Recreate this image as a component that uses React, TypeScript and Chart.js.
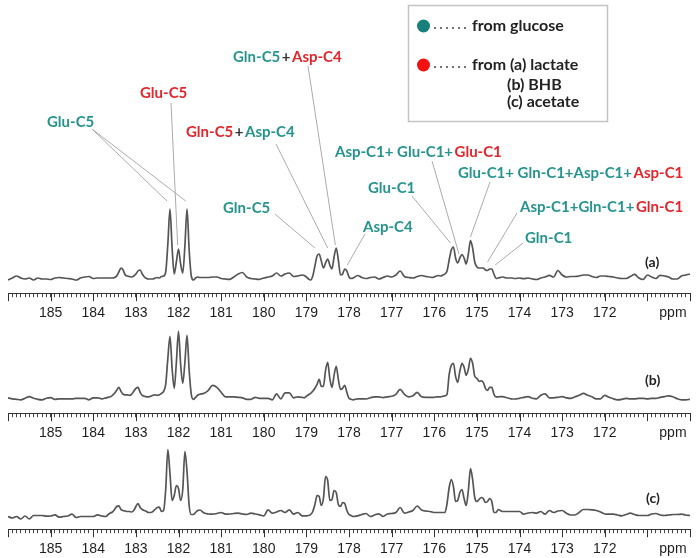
import React, { useEffect, useRef } from "react";
import { Chart, registerables } from "chart.js";

Chart.register(...registerables);

// ---------- DATA ----------
// chemical shift grid (ppm), shared by the three spectra
const ppm: number[] = [
  // 186.0 – 183.7
  186.0, 185.9, 185.8, 185.7, 185.6, 185.5, 185.4, 185.3, 185.2, 185.1, 185.0, 184.9, 184.8, 184.7, 184.6, 184.5, 184.4, 184.3, 184.2, 184.1, 184.0, 183.9, 183.8, 183.7,
  // 183.65 – 181.5
  183.65, 183.6, 183.55, 183.5, 183.45, 183.4, 183.35, 183.3, 183.25, 183.2, 183.15, 183.1, 183.05, 183.0, 182.95, 182.9, 182.85, 182.8, 182.75, 182.7, 182.65, 182.6, 182.55, 182.5, 182.45, 182.4, 182.35, 182.3, 182.25, 182.2, 182.15, 182.1, 182.05, 182.0, 181.95, 181.9, 181.85, 181.8, 181.75, 181.7, 181.65, 181.6, 181.55, 181.5,
  // 181.4 – 179.1
  181.4, 181.3, 181.2, 181.1, 181.0, 180.9, 180.8, 180.7, 180.6, 180.5, 180.4, 180.3, 180.2, 180.1, 180.0, 179.9, 179.8, 179.7, 179.6, 179.5, 179.4, 179.3, 179.2, 179.1,
  // 179.05 – 177.9
  179.05, 179.0, 178.95, 178.9, 178.85, 178.8, 178.75, 178.7, 178.65, 178.6, 178.55, 178.5, 178.45, 178.4, 178.35, 178.3, 178.25, 178.2, 178.15, 178.1, 178.05, 178.0, 177.95, 177.9,
  // 177.8 – 176.1
  177.8, 177.7, 177.6, 177.5, 177.4, 177.3, 177.2, 177.1, 177.0, 176.9, 176.8, 176.7, 176.6, 176.5, 176.4, 176.3, 176.2, 176.1,
  // 176.05 – 174.5
  176.05, 176.0, 175.95, 175.9, 175.85, 175.8, 175.75, 175.7, 175.65, 175.6, 175.55, 175.5, 175.45, 175.4, 175.35, 175.3, 175.25, 175.2, 175.15, 175.1, 175.05, 175.0, 174.95, 174.9, 174.85, 174.8, 174.75, 174.7, 174.65, 174.6, 174.55, 174.5,
  // 174.4 – 170.0
  174.4, 174.3, 174.2, 174.1, 174.0, 173.9, 173.8, 173.7, 173.6, 173.5, 173.4, 173.3, 173.2, 173.1, 173.0, 172.9, 172.8, 172.7, 172.6, 172.5, 172.4, 172.3, 172.2, 172.1, 172.0, 171.9, 171.8, 171.7, 171.6, 171.5, 171.4, 171.3, 171.2, 171.1, 171.0, 170.9, 170.8, 170.7, 170.6, 170.5, 170.4, 170.3, 170.2, 170.1, 170.0,
];

// spectrum (a) lactate
const intensityA: number[] = [
  -2, 0, 2, 0, -1, 0, -2, 0, -1, -1, -1.5, 0, 0.5, 0, -0.5, -1, -2, 0, 1, 1.5, -0.5, 0, 0, 0,
  0, 0, 0, 0.5, 2, 6, 10, 8, 3, 2, 1.5, 1, 2, 4, 7, 8, 4, 1, -0.5, -1, -1, -1, 0, 0.5, 0, 1.5, 2, 6, 34, 69, 30, 4, 16, 29, 14, 5, 32, 69, 28, 2, -2, 0, 1, 0.5,
  0.5, 0.5, 1, 1, -0.5, -1, -1.3, 1, 4, 5.5, 1, -0.5, -1, -1.3, 0, 1, 2, 5, 2, 4, 5, 1.5, 2, 3,
  2.5, 1, -1, -2, 2, 12, 22, 24, 17, 10, 15, 19, 13, 9, 21, 30, 18, 3, 4, 9, 7, 1, -0.5, 0,
  2.5, 0.5, -0.5, 0.5, 1, -1, 0.5, 2, 1, 3, 7, 1.5, 0.5, 0, 1.5, 2.5, 1.5, 1,
  0.5, 1, 2, 2.5, 2, 3, 4, 7, 18, 28, 31, 20, 15, 20, 23.5, 20, 14, 24, 37.5, 30, 16, 11, 10, 10, 10, 8, 7.5, 9, 9, 4, -0.5, 0,
  1, 0, 0, -0.5, 0, -0.7, 0, -1, -1.5, 0, 1, 2.7, 1, 7.5, 3, 1, 1.5, 1.5, 2, 3, 3, 1.5, 0.5, 2, 2, 1.5, 1, 0, -0.5, -0.5, 1.5, 3.7, 0, -1.5, 3, 1, -0.5, 2.7, 2, 1, -1, -1, 2, 3, 4,
];

// spectrum (b) BHB
const intensityB: number[] = [
  0.5, -0.5, -1, -1.5, 0, 1.7, 0, -1, -1.5, 0, 0.7, -1, -0.5, -0.5, -0.5, -0.5, 0, 0, 0, -1.5, 0.5, 0.5, -0.5, 0.5,
  1, 1.5, 3, 5, 8, 11, 7, 4, 3.5, 3.5, 3, 4, 7, 10, 11, 6, 3, 2, 1.5, 1.5, 2, 3, 3.5, 3, 3.5, 5, 7, 14, 40, 62, 30, 10, 36, 67, 34, 15, 36, 63, 28, 4, -1, 1, 3, 4,
  5, 8, 13, 11, 6, 1.5, 1.5, 1.5, 1, 0.5, -1, -1, 1, 0, 0, 0, -1.5, 4.5, -0.5, 5.5, 5.5, 0.5, 1.5, 1,
  0.5, 2, 3.5, 5, 7, 10, 14, 19, 12, 12, 28, 36, 20, 11, 23, 32, 19, 9, 10, 13, 6, 0, -1, -1.5,
  -0.5, -0.5, -0.7, 0.5, 1.5, 1.5, 0.7, 1.5, 2, 4, 9, 4, 1.5, 2.5, 6, 1.5, 1, 1,
  1, 1, 1.5, 1.5, 1.5, 2, 2.5, 4, 24, 33, 35, 22, 16, 27, 35, 31, 23, 29, 40, 35, 22, 20, 17, 17.5, 16, 10, 8, 11, 11, 4, 1.5, 1.5,
  1.7, 0.5, -0.5, -0.7, 0, 1, 1.7, 0, -0.5, 3, 4.5, 0.5, 0.5, 1, 1.7, 0.5, 0, 1.5, 3, 5, 3, 1.5, -0.5, -0.5, 3, 1, -0.5, -1.5, -1, 0, -0.5, -0.5, 0, 0, -0.5, 0, 0, 1, 1.7, 2.5, 1.5, -0.5, -1.5, -1.5, -1,
];

// spectrum (c) acetate
const intensityC: number[] = [
  -1, -2.5, -1, -3.5, -0.5, -3.5, 0, 0, 0, -0.7, -0.5, 0.7, -1.7, -1, -0.5, 1.3, -2, -1, -1, -1, -1, 0.7, -0.5, -1,
  1, 2.5, 3.5, 6, 9, 9.7, 6, 5, 4.5, 4, 4, 3.5, 5, 9, 12, 8, 6, 5, 4, 3, 3, 4, 6, 8, 8.3, 4, 5, 26, 66, 42, 15, 20, 30, 27, 15, 26, 64, 44, 10, 1, 1, 3, 5, 5.5,
  2.5, 1.5, 1.3, 2, 3, 1.3, 1.5, 2, 2.3, 1.5, 1, 2.3, 1.5, 0.7, -0.3, 5.7, 2.3, 3.5, 5, 3, 5.7, 1.3, 3, -0.3,
  -0.3, -0.3, 0, 1, 4, 11, 20, 19, 10, 17, 39, 35, 15, 16, 25, 23, 11, 9, 13, 12, 5, 1, 0, -1,
  -0.3, 1, 2, -1, 0.5, 1.7, -1, 1.5, 2, 3, 8, 2.3, 3.5, 5, 9.5, 5.5, 4.5, 4,
  3.5, 3, 3, 3, 3, 3, 3, 12, 28, 36, 29, 14, 15, 23, 26, 17, 10, 25, 47, 36, 18, 14, 16, 18, 17, 13, 14, 17, 14, 3, 3, 6,
  4, 4, 4, 4, 4, 1.3, 2.5, 3, 2.3, 4, 1.3, 5, 3, 4.5, 5, 2.3, 0.5, 0.5, 3, 6, 6, 5.7, 5, 3.5, 1.5, 1.3, 1.3, 0.5, -0.3, 1, 2.3, 1, 0, 0, 0, 1.5, 2, 0.5, 0, 0.5, 1, 1, 1.3, 0.5, 0,
];

const labeledTicks: number[] = [185, 184, 183, 182, 181, 180, 179, 178, 177, 176, 175, 174, 173, 172];
const majorTicks: number[] = [186, 185, 184, 183, 182, 181, 180, 179, 178, 177, 176, 175, 174, 173, 172, 171, 170];
const unitTickPpm = 170.4;
const unitLabel = "ppm";
const spectrumNames: string[] = ["(a)", "(b)", "(c)"];
const legendTexts: string[] = ["from glucose", "from (a) lactate", "(b) BHB", "(c) acetate"];

// ---------- STYLE ----------
const TEAL = "#25948e";
const RED = "#e3252c";
const DARK = "#333333";
const LABEL_FONT = "bold 15px Lato";

type Seg = [string, string];
interface Annot {
  at: [number, number];
  segs: Seg[];
  from: [number, number];
  to: [number, number][]; // [ppm, intensity] end point on spectrum (a)
}

const annotations: Annot[] = [
  { at: [233, 57], segs: [["Gln-C5", TEAL], ["+", DARK], ["Asp-C4", RED]], from: [308, 66], to: [[178.32, 33]] },
  { at: [140, 93], segs: [["Glu-C5", RED]], from: [171, 103], to: [[182.02, 33]] },
  { at: [47, 122], segs: [["Glu-C5", TEAL]], from: [92, 129], to: [[182.27, 77], [181.83, 77]] },
  { at: [186, 132], segs: [["Gln-C5", RED], ["+", DARK], ["Asp-C4", TEAL]], from: [276, 144], to: [[178.5, 30]] },
  { at: [223, 208], segs: [["Gln-C5", TEAL]], from: [275, 214], to: [[178.8, 30]] },
  { at: [335, 152], segs: [["Asp-C1+ Glu-C1+", TEAL], ["Glu-C1", RED]], from: [432, 161], to: [[175.42, 24]] },
  { at: [368, 188], segs: [["Glu-C1", TEAL]], from: [412, 196], to: [[175.62, 35]] },
  { at: [458, 173], segs: [["Glu-C1+ Gln-C1+Asp-C1+", TEAL], ["Asp-C1", RED]], from: [490, 182], to: [[175.15, 41]] },
  { at: [363, 227], segs: [["Asp-C4", TEAL]], from: [365, 234], to: [[178.04, 13]] },
  { at: [520, 207], segs: [["Asp-C1+Gln-C1+", TEAL], ["Gln-C1", RED]], from: [517, 213], to: [[174.75, 16]] },
  { at: [525, 238], segs: [["Gln-C1", TEAL]], from: [523, 243], to: [[174.57, 13]] },
];

function drawSegs(ctx: CanvasRenderingContext2D, x: number, y: number, segs: Seg[]) {
  ctx.font = LABEL_FONT;
  ctx.textBaseline = "middle";
  ctx.textAlign = "left";
  let cx = x;
  segs.forEach(([t, c], i) => {
    ctx.fillStyle = c;
    ctx.fillText(t, cx, y);
    cx += ctx.measureText(t).width + (i < segs.length - 1 ? 1.5 : 0);
  });
}

const majorTickPlugin = {
  id: "majorTicks",
  afterDraw(chart: any) {
    const xs = chart.scales.x;
    const ctx = chart.ctx as CanvasRenderingContext2D;
    ctx.save();
    ctx.strokeStyle = "#333";
    ctx.lineWidth = 1;
    majorTicks.forEach((v) => {
      const px = Math.round(xs.getPixelForValue(v)) + 0.5;
      ctx.beginPath();
      ctx.moveTo(px, xs.top);
      ctx.lineTo(px, xs.top + 8);
      ctx.stroke();
    });
    ctx.restore();
  },
};

function namePlugin(name: string, x: number, y: number) {
  return {
    id: "specName",
    afterDraw(chart: any) {
      const ctx = chart.ctx as CanvasRenderingContext2D;
      ctx.save();
      ctx.font = "bold 14px Lato";
      ctx.fillStyle = "#222";
      ctx.textBaseline = "middle";
      ctx.textAlign = "left";
      ctx.fillText(name, x, y);
      ctx.restore();
    },
  };
}

const annotationPlugin = {
  id: "peakAnnotations",
  afterDraw(chart: any) {
    const ctx = chart.ctx as CanvasRenderingContext2D;
    const xs = chart.scales.x;
    const ys = chart.scales.y;
    ctx.save();
    // leader lines
    ctx.strokeStyle = "#ababab";
    ctx.lineWidth = 1;
    annotations.forEach((a) => {
      a.to.forEach(([p, v]) => {
        ctx.beginPath();
        ctx.moveTo(a.from[0], a.from[1]);
        ctx.lineTo(xs.getPixelForValue(p), ys.getPixelForValue(v));
        ctx.stroke();
      });
    });
    // labels
    annotations.forEach((a) => drawSegs(ctx, a.at[0], a.at[1], a.segs));

    // legend box
    ctx.strokeStyle = "#c4c4c4";
    ctx.lineWidth = 1.5;
    ctx.strokeRect(408.5, 5.5, 199, 116);
    const rows: [number, string][] = [[26, "#17807a"], [65, "#f21111"]];
    rows.forEach(([y, col], i) => {
      ctx.fillStyle = col;
      ctx.beginPath();
      ctx.arc(423.5, y, 6.5, 0, Math.PI * 2);
      ctx.fill();
      ctx.fillStyle = "#444";
      for (let k = 0; k < 6; k++) {
        ctx.beginPath();
        ctx.arc(435 + k * 6, y + 2, 1, 0, Math.PI * 2);
        ctx.fill();
      }
      ctx.font = "bold 16px Lato";
      ctx.fillStyle = "#222";
      ctx.textBaseline = "middle";
      ctx.fillText(legendTexts[i], 472, y);
    });
    ctx.fillText(legendTexts[2], 507, 85);
    ctx.fillText(legendTexts[3], 507, 102);
    ctx.restore();
  },
};

function makeConfig(values: number[], yMin: number, yMax: number, plugins: any[]) {
  const n = Math.min(ppm.length, values.length);
  const pts = [];
  for (let i = 0; i < n; i++) pts.push({ x: ppm[i], y: values[i] });
  return {
    type: "line" as const,
    data: {
      datasets: [
        {
          data: pts,
          borderColor: "#555555",
          borderWidth: 1.7,
          pointRadius: 0,
          tension: 0.3,
          cubicInterpolationMode: "monotone" as const,
          fill: false,
        },
      ],
    },
    options: {
      responsive: false,
      animation: false as const,
      events: [] as any[],
      layout: { padding: { left: 1, right: 2, top: 0, bottom: 0 } },
      plugins: { legend: { display: false }, tooltip: { enabled: false } },
      scales: {
        x: {
          type: "linear" as const,
          min: 170,
          max: 186,
          reverse: true,
          border: { display: true, color: "#333", width: 1 },
          grid: { display: true, drawOnChartArea: false, drawTicks: true, tickLength: 4, color: "#444", lineWidth: 1 },
          ticks: {
            stepSize: 0.1,
            autoSkip: false,
            maxRotation: 0,
            minRotation: 0,
            padding: 8,
            color: "#1e1e1e",
            font: { family: "'Liberation Sans', Arial, sans-serif", size: 14 },
            callback: (value: any) => {
              const v = Number(value);
              const r = Math.round(v);
              if (Math.abs(v - r) < 1e-6 && labeledTicks.includes(r)) return String(r);
              if (Math.abs(v - unitTickPpm) < 1e-6) return unitLabel;
              return "";
            },
          },
        },
        y: { display: false, min: yMin, max: yMax },
      },
    },
    plugins: [majorTickPlugin, ...plugins],
  };
}

export default function App() {
  const refA = useRef<HTMLCanvasElement>(null);
  const refB = useRef<HTMLCanvasElement>(null);
  const refC = useRef<HTMLCanvasElement>(null);

  useEffect(() => {
    const charts: Chart[] = [];
    if (refA.current)
      charts.push(new Chart(refA.current, makeConfig(intensityA, -15.2, 278, [annotationPlugin, namePlugin(spectrumNames[0], 645, 262)]) as any));
    if (refB.current)
      charts.push(new Chart(refB.current, makeConfig(intensityB, -14.9, 68.3, [namePlugin(spectrumNames[1], 645, 50)]) as any));
    if (refC.current)
      charts.push(new Chart(refC.current, makeConfig(intensityC, -13.7, 67.5, [namePlugin(spectrumNames[2], 646, 50)]) as any));
    return () => charts.forEach((c) => c.destroy());
  }, []);

  return (
    <div style={{ position: "fixed", left: 0, top: 0, width: 698, height: 558, overflow: "hidden", background: "#fff" }}>
      <canvas ref={refA} width={698} height={330} style={{ position: "absolute", left: 0, top: 0 }} />
      <canvas ref={refB} width={698} height={120} style={{ position: "absolute", left: 0, top: 330 }} />
      <canvas ref={refC} width={698} height={118} style={{ position: "absolute", left: 0, top: 448 }} />
    </div>
  );
}
